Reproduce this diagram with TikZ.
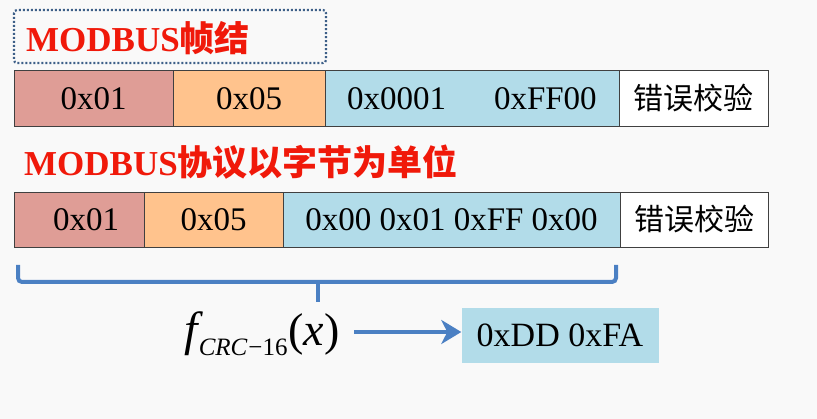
\documentclass[tikz,border=0pt]{standalone}
\usepackage{fontspec}
\setmainfont{Liberation Serif}
\newfontfamily\cjk{Noto Sans CJK SC}
\usetikzlibrary{arrows.meta}
\definecolor{bgwhite}{HTML}{F9F9F9}
\definecolor{cellred}{HTML}{DF9D96}
\definecolor{cellorange}{HTML}{FFC38D}
\definecolor{cellblue}{HTML}{B2DCE9}
\definecolor{titlered}{HTML}{F0190A}
\definecolor{bracketblue}{HTML}{4B80C3}
\definecolor{dotblue}{HTML}{3D5F88}
\tikzset{
  cell/.style={draw=black!75, line width=0.8pt, inner sep=0pt, minimum height=56pt,
    font=\fontsize{33}{33}\selectfont},
  checkcell/.style={cell, fill=white, font=\cjk\fontsize{30}{30}\selectfont},
  title/.style={anchor=west, inner sep=0pt, text=titlered,
    font=\bfseries\fontsize{35}{35}\selectfont},
  bluepen/.style={bracketblue, line width=4pt},
}
\begin{document}
\begin{tikzpicture}[x=1pt, y=-1pt]
        \fill[bgwhite] (0,0) rectangle (817,419);
        \useasboundingbox (0,0) rectangle (817,419);
        % frame layout
        \draw[dotblue, line width=2.2pt, dash pattern=on 2pt off 2pt, rounded corners=3pt] (14,10) rectangle (326,63);
        \node[title] (T1) at (26,38) {MODBUS{\cjk 帧结}};
        \node[cell, fill=cellred, minimum width=159pt] (A) at (93.5,98.5) {0x01};
        \node[cell, fill=cellorange, minimum width=152pt] (B) at (249,98.5) {0x05};
        \node[cell, fill=cellblue, minimum width=294pt] (C) at (472,98.5) {0x0001\hspace{1.45em}0xFF00};
        \node[checkcell, minimum width=149pt] (D) at (693.5,98.5) {错误校验};
        % byte layout
        \node[title] (T2) at (24,162) {MODBUS{\cjk 协议以字节为单位}};
        \node[cell, fill=cellred, minimum width=130pt, minimum height=55pt] (E) at (79,219.5) {\hspace{14pt}0x01};
        \node[cell, fill=cellorange, minimum width=139pt, minimum height=55pt] (F) at (213.5,219.5) {0x05};
        \node[cell, fill=cellblue, minimum width=337pt, minimum height=55pt] (G) at (451.5,219.5) {0x00 0x01 0xFF 0x00};
        \node[checkcell, minimum width=148pt, minimum height=55pt] (H) at (694,219.5) {错误校验};
        % checksum
        \node[inner sep=0pt] (I) at (262,334) {{\fontsize{48}{48}\selectfont\itshape f}\kern1pt\raisebox{-10pt}{\fontsize{25}{25}\selectfont\itshape CRC\upshape\kern1pt−16}\kern1pt{\fontsize{46}{46}\selectfont(\itshape x\upshape)}};
        \node[fill=cellblue, minimum width=197pt, minimum height=55pt, inner sep=0pt,
          font=\fontsize{34}{34}\selectfont] (J) at (560,335.5) {0xDD 0xFA};
        \coordinate (L) at (18,265);
        \coordinate (R) at (616,265);
        \coordinate (M) at (318,282);
        \coordinate (K) at (354,332);
        \draw[bluepen, rounded corners=4pt] (L) -- (18,282) -- (616,282) -- (R);
        \draw[bluepen] (M) -- (318,302);
        \draw[bluepen, -{Stealth[length=20pt, width=24pt, inset=6pt]}] (K) -- (K -| J.west);
    \end{tikzpicture}
\end{document}
